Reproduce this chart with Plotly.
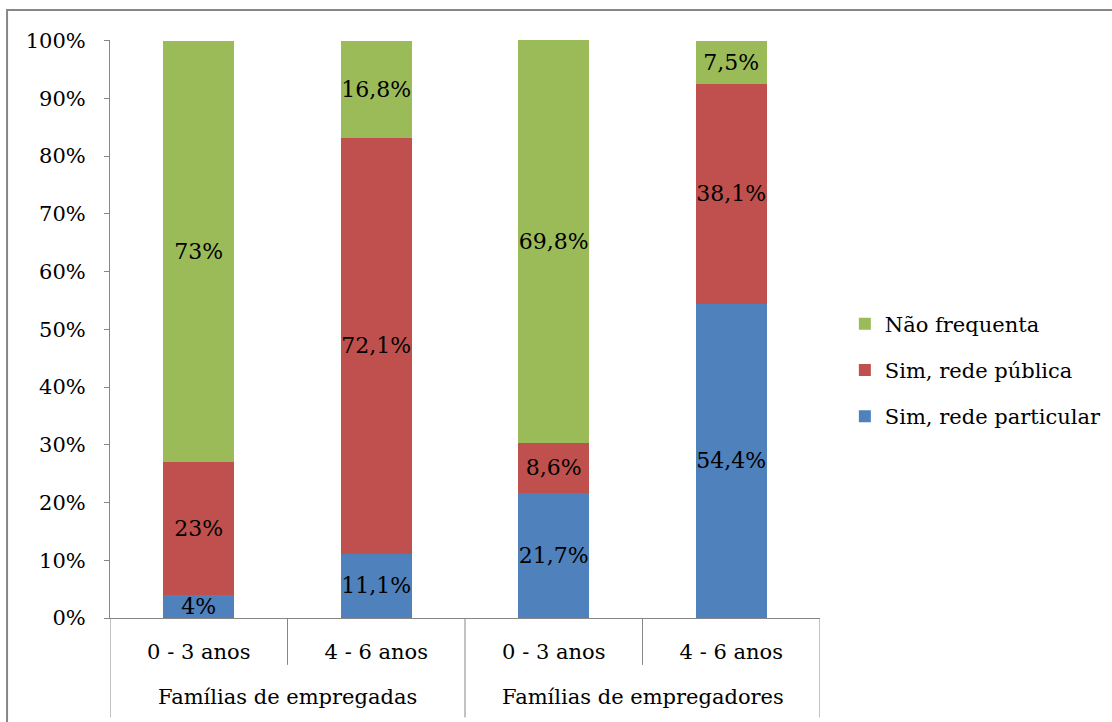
import plotly.graph_objects as go

group_names = ["Famílias de empregadas", "Famílias de empregadores"]
ages = ["0 - 3 anos", "4 - 6 anos", "0 - 3 anos", "4 - 6 anos"]

particular = [4, 11.1, 21.7, 54.4]
publica = [23, 72.1, 8.6, 38.1]
nao = [73, 16.8, 69.8, 7.5]

y_ticks = list(range(0, 101, 10))
y_ticklabels = [f"{t}%" for t in y_ticks]

series = [
    ("Sim, rede particular", particular, "#4F81BD", 3),
    ("Sim, rede pública", publica, "#C0504D", 2),
    ("Não frequenta", nao, "#9BBB59", 1),
]

def fmt(v):
    return f"{v:g}".replace(".", ",") + "%"

FONT = "DejaVu Serif"
FS = 21
xpos = list(range(len(ages)))

fig = go.Figure()
for name, vals, color, rank in series:
    fig.add_trace(go.Bar(
        x=xpos, y=vals, name=name, legendgroup=name, legendrank=rank,
        marker=dict(color=color, line=dict(width=0)),
        text=[fmt(v) for v in vals], textposition="inside", textangle=0,
        insidetextanchor="middle", constraintext="none",
        textfont=dict(family=FONT, size=22, color="black"),
        cliponaxis=False,
    ))

AX = "#868686"
shapes = [dict(type="rect", xref="paper", yref="paper", x0=-0.145, x1=1.45, y0=-0.25, y1=1.052,
               line=dict(color=AX, width=2), fillcolor="rgba(0,0,0,0)", layer="below")]
for i in range(len(ages) + 1):
    b = i - 0.5
    outer = (i % 2 == 0)
    shapes.append(dict(type="line", xref="x", yref="paper", x0=b, x1=b,
                       y0=0, y1=-0.172 if outer else -0.081,
                       line=dict(color=AX, width=1)))

annotations = []
for gi, g in enumerate(group_names):
    annotations.append(dict(x=gi * 2 + 0.5, xref="x", y=-0.137, yref="paper",
                            text=g, showarrow=False, yanchor="middle",
                            font=dict(family=FONT, size=FS, color="black")))

fig.update_layout(
    barmode="stack", bargap=0.6,
    width=1112, height=722,
    margin=dict(l=110, r=292, t=40, b=104, autoexpand=False),
    paper_bgcolor="white", plot_bgcolor="white",
    font=dict(family=FONT, size=FS, color="black"),
    showlegend=True,
    legend=dict(traceorder="grouped", x=1.035, y=0.429, yanchor="middle", xanchor="left",
                tracegroupgap=16, font=dict(family=FONT, size=FS), itemwidth=30),
    yaxis=dict(range=[0, 100.1], tickvals=y_ticks, ticktext=y_ticklabels, showgrid=False,
               showline=True, linecolor=AX, linewidth=1,
               ticks="outside", ticklen=5, tickcolor=AX, ticklabelstandoff=14,
               tickfont=dict(family=FONT, size=FS)),
    xaxis=dict(range=[-0.5, len(ages) - 0.5], tickvals=xpos, ticktext=ages,
               showline=True, linecolor=AX, linewidth=1, showgrid=False, zeroline=False,
               ticks="", ticklabelstandoff=15,
               tickfont=dict(family=FONT, size=FS)),
    shapes=shapes,
    annotations=annotations,
)

fig.write_html("out.html")
